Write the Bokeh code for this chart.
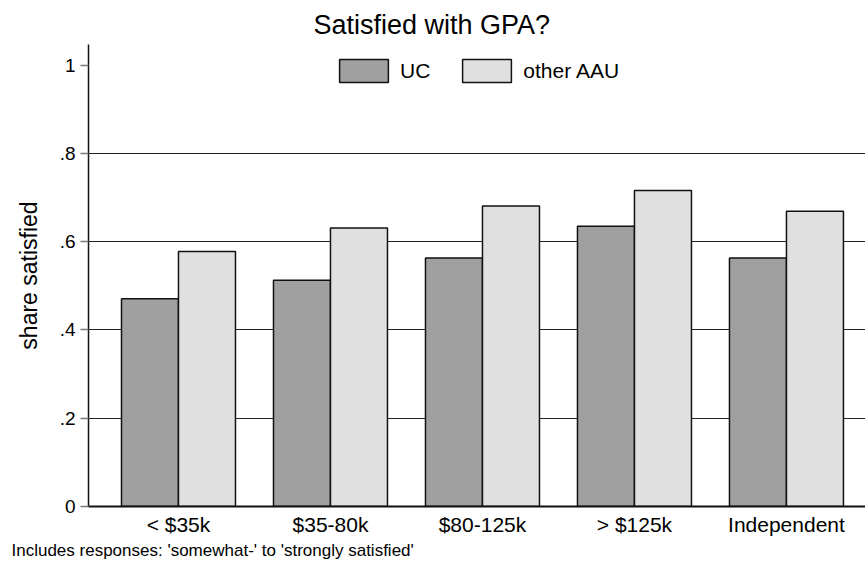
import numpy as np
from bokeh.plotting import figure
from bokeh.models import (Range1d, FixedTicker, Legend, LegendItem, Title,
                          ColumnDataSource)
from bokeh.transform import dodge
from bokeh.embed import file_html
from bokeh.resources import INLINE

categories = ["< $35k", "$35-80k", "$80-125k", "> $125k", "Independent"]
uc = [0.471, 0.513, 0.563, 0.635, 0.563]
other_aau = [0.578, 0.631, 0.681, 0.716, 0.669]
y_ticks = [0, 0.2, 0.4, 0.6, 0.8, 1.0]
y_tick_labels = ["0", ".2", ".4", ".6", ".8", "1"]
grid_ticks = [0.2, 0.4, 0.6, 0.8]

FONT = "Liberation Sans"

x_idx = list(range(len(categories)))
src = ColumnDataSource(dict(x=x_idx, uc=uc, aau=other_aau, cat=categories))

p = figure(width=865, height=563,
           x_range=Range1d(-0.592, 4.52), y_range=Range1d(0, 1.047),
           output_backend="svg", toolbar_location=None,
           min_border_left=88, min_border_right=0,
           min_border_top=44, min_border_bottom=57)
p.outline_line_color = None
p.background_fill_color = "white"
p.border_fill_color = "white"

bar_w = 0.375
r_uc = p.vbar(x=dodge("x", -bar_w / 2, range=p.x_range), top="uc", width=bar_w,
              source=src, fill_color="#a0a0a0", line_color="#111111", line_width=1.5)
r_aau = p.vbar(x=dodge("x", bar_w / 2, range=p.x_range), top="aau", width=bar_w,
               source=src, fill_color="#e0e0e0", line_color="#111111", line_width=1.5)

# grid
p.xgrid.visible = False
p.ygrid.ticker = FixedTicker(ticks=grid_ticks)
p.ygrid.grid_line_color = "#222222"
p.ygrid.grid_line_width = 1

# y axis
ya = p.yaxis[0]
ya.ticker = FixedTicker(ticks=y_ticks)
ya.major_label_overrides = {t: l for t, l in zip(y_ticks, y_tick_labels)}
ya.minor_tick_line_color = None
ya.major_tick_in = 0
ya.major_tick_out = 8
ya.major_tick_line_color = "#777777"
ya.major_tick_line_width = 1.5
ya.axis_line_color = "#111111"
ya.axis_line_width = 1.5
ya.major_label_text_font = FONT
ya.major_label_text_font_size = "19px"
ya.major_label_text_color = "black"
ya.major_label_standoff = 5
ya.axis_label = "share satisfied"
ya.axis_label_text_font = FONT
ya.axis_label_text_font_size = "23px"
ya.axis_label_text_font_style = "normal"
ya.axis_label_text_color = "black"
ya.axis_label_standoff = 15

# x axis
xa = p.xaxis[0]
xa.ticker = FixedTicker(ticks=x_idx)
xa.major_label_overrides = {i: c for i, c in zip(x_idx, categories)}
xa.minor_tick_line_color = None
xa.major_tick_line_color = None
xa.major_tick_in = 0
xa.major_tick_out = 0
xa.axis_line_color = "#111111"
xa.axis_line_width = 2
xa.major_label_text_font = FONT
xa.major_label_text_font_size = "21px"
xa.major_label_text_color = "black"
xa.major_label_standoff = 6

# legend
legend = Legend(items=[LegendItem(label="UC", renderers=[r_uc]),
                       LegendItem(label="other AAU", renderers=[r_aau])],
                orientation="horizontal", location=(245, 421),
                glyph_width=61, glyph_height=29, label_height=29,
                label_standoff=6, spacing=26, padding=0, margin=0,
                border_line_color=None, background_fill_alpha=0,
                label_text_font=FONT, label_text_font_size="21px",
                label_text_color="black")
p.add_layout(legend, "center")

# title and caption
p.add_layout(Title(text="Satisfied with GPA?", align="left", offset=225,
                   text_font=FONT, text_font_size="27px",
                   text_font_style="normal", text_color="black",
                   standoff=10), "above")
p.add_layout(Title(text="Includes responses: 'somewhat-' to 'strongly satisfied'",
                   align="left", offset=-77, text_font=FONT,
                   text_font_size="17px", text_font_style="normal",
                   text_color="black", standoff=0), "below")

open("out.html", "w").write(file_html(p, INLINE))
